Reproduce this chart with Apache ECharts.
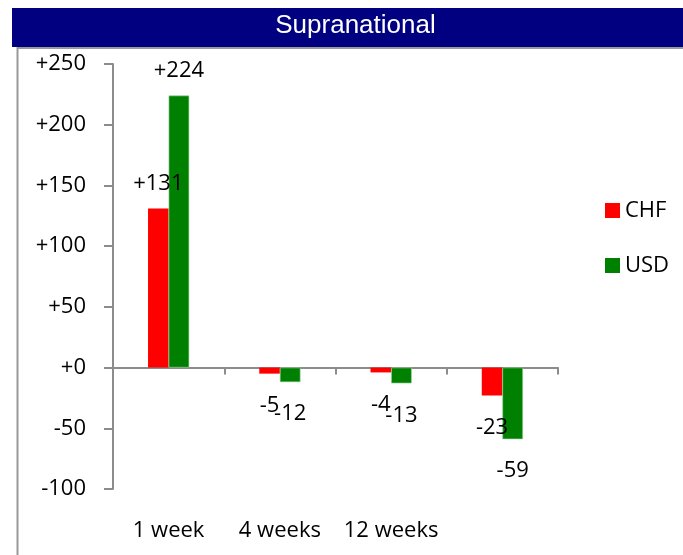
<!DOCTYPE html>
<html>
<head>
<meta charset="utf-8">
<script src="https://cdn.jsdelivr.net/npm/echarts@6/dist/echarts.min.js"></script>
<style>
html,body{margin:0;padding:0;background:#fff;}
#chart{width:683px;height:555px;}
</style>
</head>
<body>
<div id="chart"></div>
<script>
var titleText = 'Supranational';
var categories = ['1 week', '4 weeks', '12 weeks', ''];
var seriesNames = ['CHF', 'USD'];
var chfValues = [131, -5, -4, -23];
var usdValues = [224, -12, -13, -59];
var yMin = -100, yMax = 250, yInterval = 50;

var FONT = 'Open Sans';
function fmt(v) { return v >= 0 ? '+' + v : String(v); }
function buildData(vals) {
  return vals.map(function (v) {
    return {
      value: v,
      label: { position: v >= 0 ? 'top' : 'bottom', distance: v >= 0 ? 14 : 21 }
    };
  });
}

var chart = echarts.init(document.getElementById('chart'), null, { renderer: 'canvas' });
var axisGrey = '#8c8c8c';
chart.setOption({
  animation: false,
  backgroundColor: '#ffffff',
  graphic: [
    { type: 'rect', shape: { x: 12, y: 8, width: 671, height: 39 }, style: { fill: '#000080' }, z: 10 },
    { type: 'line', shape: { x1: 17, y1: 48, x2: 683, y2: 48 }, style: { stroke: '#999999', lineWidth: 2 }, z: 10 },
    { type: 'line', shape: { x1: 17.5, y1: 47, x2: 17.5, y2: 555 }, style: { stroke: '#999999', lineWidth: 2 }, z: 10 },
    { type: 'text', x: 355.5, y: 26, style: { text: titleText, fill: '#ffffff', font: '26px "Liberation Sans", Arial, sans-serif', textAlign: 'center', textVerticalAlign: 'middle' }, z: 11 }
  ],
  legend: {
    orient: 'vertical',
    left: 600,
    top: 194.5,
    itemWidth: 15,
    itemHeight: 15,
    itemGap: 33,
    icon: 'rect',
    itemStyle: { borderWidth: 0 },
    textStyle: { fontFamily: FONT, fontSize: 22, color: '#000' },
    data: seriesNames
  },
  grid: { left: 113, right: 125, top: 64, bottom: 66, containLabel: false },
  xAxis: [
    {
      type: 'category',
      data: categories,
      axisLine: { onZero: true, lineStyle: { color: axisGrey, width: 2 } },
      axisTick: { show: true, length: 7, lineStyle: { color: axisGrey, width: 2 } },
      axisLabel: { show: false },
      splitLine: { show: false }
    },
    {
      type: 'category',
      data: categories,
      position: 'bottom',
      axisLine: { show: false, onZero: false },
      axisTick: { show: false },
      axisLabel: { show: true, interval: 0, margin: 31, fontFamily: FONT, fontSize: 22, color: '#000' },
      splitLine: { show: false }
    }
  ],
  yAxis: {
    type: 'value',
    min: yMin,
    max: yMax,
    interval: yInterval,
    axisLine: { show: true, lineStyle: { color: axisGrey, width: 2 } },
    axisTick: { show: true, length: 9, lineStyle: { color: axisGrey, width: 2 } },
    axisLabel: { margin: 27, fontFamily: FONT, fontSize: 22, color: '#000', formatter: fmt },
    splitLine: { show: false }
  },
  series: [
    {
      name: seriesNames[0], type: 'bar', xAxisIndex: 0, barWidth: 20.6, barGap: '0%',
      itemStyle: { color: '#ff0000' },
      label: { show: true, fontFamily: FONT, fontSize: 22, color: '#000', formatter: function (p) { return fmt(p.value); } },
      data: buildData(chfValues)
    },
    {
      name: seriesNames[1], type: 'bar', xAxisIndex: 0, barWidth: 20.6, barGap: '0%',
      itemStyle: { color: '#008000', borderColor: '#9fd49f', borderWidth: 0.6 },
      label: { show: true, fontFamily: FONT, fontSize: 22, color: '#000', formatter: function (p) { return fmt(p.value); } },
      data: buildData(usdValues)
    }
  ]
});
</script>
</body>
</html>
